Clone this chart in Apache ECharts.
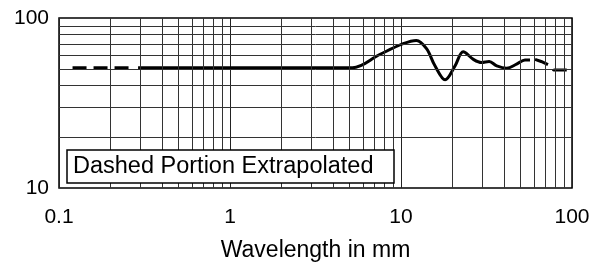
<!DOCTYPE html>
<html>
<head>
<meta charset="utf-8">
<script src="https://cdn.jsdelivr.net/npm/echarts@6/dist/echarts.min.js"></script>
<style>
  html, body { margin: 0; padding: 0; background: #fff; }
  #chart { width: 605px; height: 267px; }
</style>
</head>
<body>
<div id="chart"></div>
<script>
// extrapolated left part (dashed)
const leftDashX = [0.12, 0.28];
const leftDashY = [51, 51];
// measured part (solid)
const mainX = [0.29, 3, 5.2, 7.5, 10.3, 12.3, 14.1, 15.8, 18.1, 20.7, 23.1, 26.5, 29.6, 32.8, 36.3, 41.5, 47.4, 53.1, 56.8];
const mainY = [51, 51, 51, 61, 70.6, 73.8, 66, 52.3, 43.3, 52.3, 63.3, 57.1, 54.7, 55.4, 52.3, 50.7, 53.5, 56.6, 56.6];
// extrapolated right part (dashed)
const tailX = [60.8, 66, 73.3, 78, 100];
const tailY = [57.1, 55.5, 52.8, 49.4, 49.4];

// minor grid positions
const xGrid = [0.2, 0.3, 0.4, 0.5, 0.6, 0.7, 0.8, 0.9, 2, 3, 4, 5, 6, 7, 8, 9, 20, 30, 40, 50, 60, 70, 80, 90];
const yGrid = [20, 30, 40, 50, 60, 70, 80, 90];
const xTicks = ['0.1', '1', '10', '100'];

const font = 'Arial, "Liberation Sans", sans-serif';
const zip = (xs, ys) => xs.map((x, i) => [x, ys[i]]);

const chart = echarts.init(document.getElementById('chart'));
chart.setOption({
  animation: false,
  grid: {
    left: 59, right: 33, top: 18, bottom: 75,
    show: true, borderColor: '#000', borderWidth: 1.5, backgroundColor: 'transparent'
  },
  xAxis: {
    type: 'log', logBase: 10, min: 0.1, max: 100,
    name: 'Wavelength in mm', nameLocation: 'middle', nameGap: 51,
    nameTextStyle: { fontFamily: font, fontSize: 23, color: '#000' },
    axisLine: { show: false },
    axisTick: { show: false },
    axisLabel: {
      fontFamily: font, fontSize: 21, color: '#000', margin: 19,
      formatter: v => xTicks.find(t => Math.abs(parseFloat(t) - v) < 1e-6 * v) || ''
    },
    splitLine: { show: true, lineStyle: { color: '#222', width: 1 } }
  },
  yAxis: {
    type: 'log', logBase: 10, min: 10, max: 100,
    axisLine: { show: false },
    axisTick: { show: false },
    axisLabel: { fontFamily: font, fontSize: 21, color: '#000', margin: 10 },
    splitLine: { show: false }
  },
  graphic: [
    { type: 'rect', z: 100, shape: { x: 67, y: 150, width: 327, height: 33 },
      style: { fill: '#fff', stroke: '#000', lineWidth: 1.5 } },
    { type: 'text', z: 101, x: 73, y: 167,
      style: { text: 'Dashed Portion Extrapolated', font: '23.5px ' + font, fill: '#000', verticalAlign: 'middle' } }
  ],
  series: [
    {
      type: 'line', data: [], z: 1, silent: true,
      markLine: {
        silent: true, symbol: 'none', label: { show: false },
        lineStyle: { type: 'solid', color: '#333', width: 1 },
        data: xGrid.map(v => ({ xAxis: v })).concat(yGrid.map(v => ({ yAxis: v })))
      }
    },
    {
      type: 'line', data: zip(leftDashX, leftDashY), showSymbol: false, z: 3,
      lineStyle: { color: '#000', width: 3, type: [14, 7] }
    },
    {
      type: 'line', data: zip(mainX, mainY), showSymbol: false, z: 3,
      smooth: 0.35,
      lineStyle: { color: '#000', width: 3 }
    },
    {
      type: 'line', data: zip(tailX, tailY), showSymbol: false, z: 3,
      lineStyle: { color: '#000', width: 3, type: [14, 7] }
    }
  ]
});
</script>
</body>
</html>
